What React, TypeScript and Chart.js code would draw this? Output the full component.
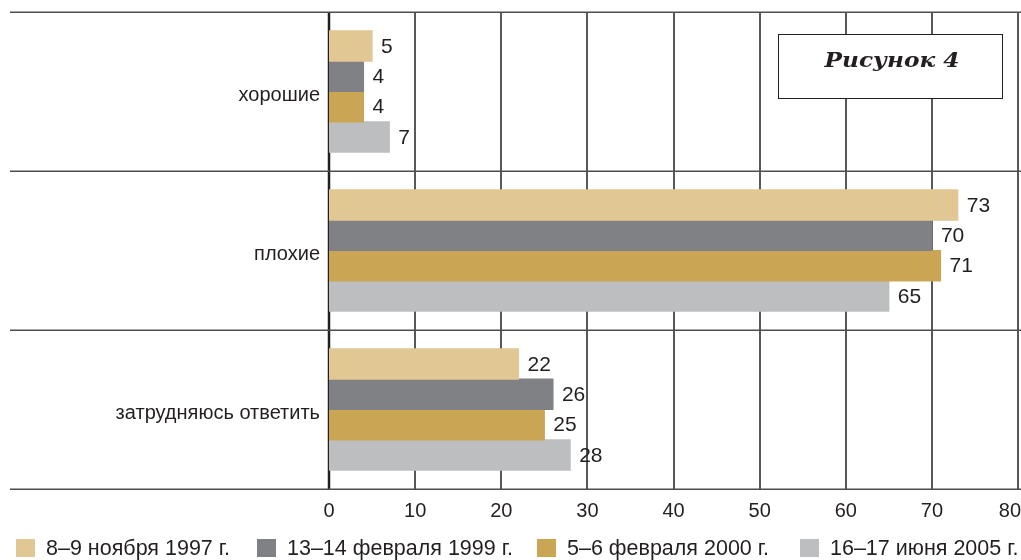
import React, { useEffect, useRef } from "react";
import { Chart, registerables } from "chart.js";

Chart.register(...registerables);

const categories = ["хорошие", "плохие", "затрудняюсь ответить"];
const seriesLabels = ["8–9 ноября 1997 г.", "13–14 февраля 1999 г.", "5–6 февраля 2000 г.", "16–17 июня 2005 г."];
const s1997 = [5, 73, 22];
const s1999 = [4, 70, 26];
const s2000 = [4, 71, 25];
const s2005 = [7, 65, 28];
const xTickValues = [0, 10, 20, 30, 40, 50, 60, 70, 80];
const seriesColors = ["#e0c793", "#808184", "#c9a554", "#bdbec0"];
const figureTitle = "Рисунок 4";

const SANS = "'Liberation Sans', Arial, sans-serif";
const SERIF = "'DejaVu Serif', 'Liberation Serif', serif";
const INK = "#231f20";
const legendX = [16, 257, 537, 800];

const overlayPlugin = {
  id: "overlay",
  beforeDatasetsDraw(chart: any) {
    const ctx = chart.ctx;
    const y = chart.scales.y;
    const xs = chart.scales.x;
    const area = chart.chartArea;
    ctx.save();
    // vertical grid lines
    ctx.strokeStyle = INK;
    xTickValues.forEach((v) => {
      const px = Math.round(xs.getPixelForValue(v));
      ctx.lineWidth = v === 0 ? 2.5 : 1.5;
      ctx.beginPath();
      ctx.moveTo(px, area.top);
      ctx.lineTo(px, area.bottom);
      ctx.stroke();
    });
    // horizontal separators
    ctx.strokeStyle = "#4d4d4f";
    ctx.lineWidth = 1.5;
    for (let i = 0; i <= categories.length; i++) {
      const py = Math.round(y.getPixelForValue(i - 0.5)) + 0.25;
      ctx.beginPath();
      ctx.moveTo(10, py);
      ctx.lineTo(chart.width, py);
      ctx.stroke();
    }
    ctx.restore();
  },
  afterDatasetsDraw(chart: any) {
    const ctx = chart.ctx;
    ctx.save();
    // value labels
    ctx.font = `21px ${SANS}`;
    ctx.fillStyle = INK;
    ctx.textAlign = "left";
    ctx.textBaseline = "middle";
    chart.data.datasets.forEach((ds: any, di: number) => {
      const meta = chart.getDatasetMeta(di);
      meta.data.forEach((el: any, i: number) => {
        ctx.fillText(String(ds.data[i]), el.x + 9, el.y + 1);
      });
    });
    // x tick labels
    const xs = chart.scales.x;
    ctx.font = `20px ${SANS}`;
    ctx.textAlign = "center";
    xTickValues.forEach((v) => {
      const t = String(v);
      const w = ctx.measureText(t).width;
      let px = xs.getPixelForValue(v);
      if (px + w / 2 > chart.width) px = chart.width - w / 2;
      ctx.fillText(t, px, 511);
    });
    // legend
    ctx.font = `21.5px ${SANS}`;
    ctx.textAlign = "left";
    chart.data.datasets.forEach((ds: any, i: number) => {
      const lx = legendX[i];
      ctx.fillStyle = ds.backgroundColor;
      ctx.fillRect(lx, 539, 19, 18);
      ctx.fillStyle = INK;
      ctx.fillText(ds.label, lx + 30, 549);
    });
    // title box
    const bx = 778, by = 34, bw = 224, bh = 64;
    ctx.fillStyle = "#ffffff";
    ctx.fillRect(bx, by, bw, bh);
    ctx.strokeStyle = INK;
    ctx.lineWidth = 1;
    ctx.strokeRect(bx + 0.5, by + 0.5, bw, bh);
    ctx.fillStyle = INK;
    ctx.font = `italic bold 21px ${SERIF}`;
    ctx.textAlign = "center";
    ctx.textBaseline = "alphabetic";
    const tw = ctx.measureText(figureTitle).width;
    const sx = 135 / tw;
    ctx.translate(bx + bw / 2 + 2, 67);
    ctx.scale(sx, 1);
    ctx.fillText(figureTitle, 0, 0);
    ctx.restore();
  },
};

export default function App() {
  const ref = useRef<HTMLCanvasElement | null>(null);
  useEffect(() => {
    if (!ref.current) return;
    const datasets = [s1997, s1999, s2000, s2005].map((d, i) => ({
      label: seriesLabels[i],
      data: d,
      backgroundColor: seriesColors[i],
      borderWidth: 0,
      inflateAmount: 0.6,
      categoryPercentage: 0.764,
      barPercentage: 1.0,
    }));
    const chart = new Chart(ref.current, {
      type: "bar",
      data: { labels: categories, datasets },
      options: {
        indexAxis: "y",
        animation: false,
        responsive: false,
        maintainAspectRatio: false,
        layout: { padding: { top: 12, right: 3, left: 0, bottom: 0 } },
        plugins: { legend: { display: false }, tooltip: { enabled: false } },
        scales: {
          x: {
            type: "linear",
            min: 0,
            max: 80,
            ticks: { display: false, stepSize: 10 },
            grid: { display: false, drawTicks: false },
            border: { display: false },
            afterFit: (s: any) => {
              s.height = 71;
              s.paddingLeft = 0;
              s.paddingRight = 0;
            },
          },
          y: {
            type: "category",
            grid: { display: false, drawTicks: false },
            border: { display: false },
            ticks: {
              color: INK,
              padding: 9,
              labelOffset: 4,
              font: { family: SANS, size: 20 },
            },
            afterFit: (s: any) => {
              s.width = 329;
              s.paddingTop = 0;
              s.paddingBottom = 0;
            },
          },
        },
      },
      plugins: [overlayPlugin],
    } as any);
    return () => chart.destroy();
  }, []);
  return (
    <div style={{ position: "absolute", left: 0, top: 0, width: 1021, height: 560, overflow: "hidden", background: "#fff" }}>
      <canvas ref={ref} width={1021} height={560} style={{ width: 1021, height: 560, display: "block" }} />
    </div>
  );
}
